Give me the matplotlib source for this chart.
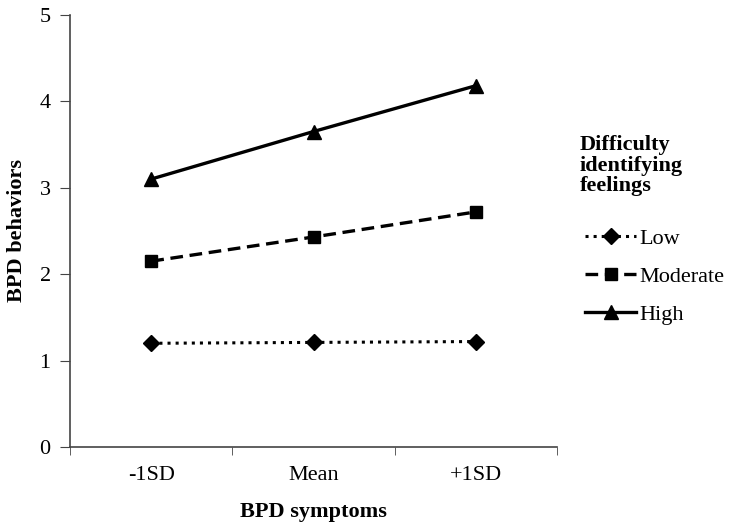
import matplotlib
matplotlib.use("Agg")
import matplotlib.pyplot as plt
from matplotlib.ticker import FixedLocator

plt.rcParams['font.family'] = ['Liberation Serif', 'DejaVu Serif']

categories = ['-1SD', 'Mean', '+1SD']
low = [1.20, 1.21, 1.22]
moderate = [2.15, 2.43, 2.72]
high = [3.10, 3.65, 4.18]

fig = plt.figure(figsize=(7.31, 5.29), dpi=100)
ax = fig.add_axes([0.096, 0.155, 0.666, 0.817])

x = range(len(categories))
ax.plot(x, low, color='black', linestyle=':', linewidth=2.2, marker='D', markersize=8, label='Low')
ax.plot(x, moderate, color='black', linestyle=(0, (3.8, 2)), linewidth=2.4, marker='s', markersize=8, label='Moderate')
ax.plot(x, high, color='black', linestyle='-', linewidth=2.4, marker='^', markersize=10, label='High')

ax.set_xlim(-0.5, 2.5)
ax.set_ylim(0, 5)
ax.set_xticks(list(x))
ax.set_xticklabels(categories, fontsize=16)
ax.xaxis.set_minor_locator(FixedLocator([-0.5, 0.5, 1.5, 2.5]))
ax.tick_params(axis='x', which='major', length=0, pad=14)
ax.tick_params(axis='x', which='minor', length=6, color='#444444')
ax.set_yticks([0, 1, 2, 3, 4, 5])
ax.tick_params(axis='y', labelsize=16, length=7, color='#444444', pad=7)

for s in ['top', 'right']:
    ax.spines[s].set_visible(False)
for s in ['left', 'bottom']:
    ax.spines[s].set_color('#444444')
    ax.spines[s].set_linewidth(1.2)

ax.set_xlabel('BPD symptoms', fontsize=16, fontweight='bold', labelpad=12)
ax.set_ylabel('BPD behaviors', fontsize=16, fontweight='bold', labelpad=9)

leg = ax.legend(title='Difficulty\nidentifying\nfeelings', loc='upper left',
                bbox_to_anchor=(1.024, 0.748), frameon=False, fontsize=16,
                handlelength=2.3, handletextpad=0.15, labelspacing=0.78,
                borderpad=0, title_fontproperties={'weight': 'bold', 'size': 16,
                                                   'family': ['Liberation Serif']})
leg.get_title().set_linespacing(1.05)
leg._legend_box.align = 'left'
leg._legend_box.sep = 19
leg._legend_handle_box.pad = 4

fig.savefig('out.png', dpi=100)
